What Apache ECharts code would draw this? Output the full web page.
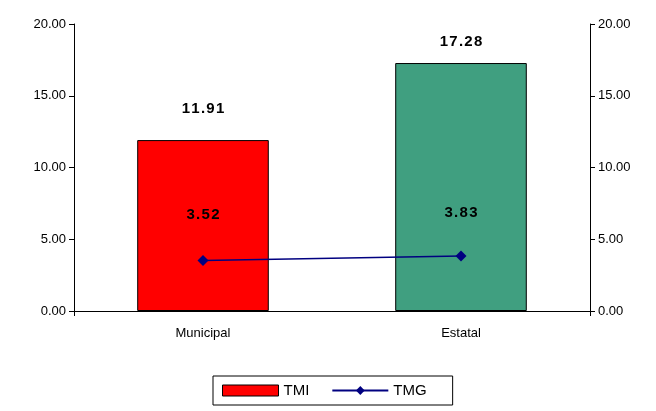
<!DOCTYPE html>
<html><head><meta charset="utf-8">
<script src="https://cdn.jsdelivr.net/npm/echarts@6/dist/echarts.min.js"></script>
<style>html,body{margin:0;padding:0;background:#fff}#c{width:656px;height:411px}</style>
</head><body><div id="c"></div>
<script>
var categories = ['Municipal', 'Estatal'];
var tmi = [11.91, 17.28];
var tmg = [3.52, 3.83];
var yTicks = [0, 5, 10, 15, 20];
var barColors = ['#FF0000', '#409F80'];

var chart = echarts.init(document.getElementById('c'));
var axisCommon = {
  type: 'value', min: 0, max: 20, interval: 5,
  axisLine: {show: true, lineStyle: {color: '#000', width: 1}},
  axisTick: {show: true, length: 5, lineStyle: {color: '#000'}},
  splitLine: {show: false},
  axisLabel: {color: '#000', fontFamily: 'Liberation Sans, Arial', fontSize: 13,
    formatter: function (v) { return v.toFixed(2); }}
};
function spaced(v) { return v.toFixed(2).split('').join('\u200A'); }
var labelStyle = {show: true, position: 'top', color: '#000', fontWeight: 'bold',
  fontFamily: 'Liberation Sans, Arial', fontSize: 15};
var barDist = [24, 14];
var lineDist = [33, 30];
chart.setOption({
  animation: false,
  grid: {left: 74, right: 66, top: 24, bottom: 100},
  legend: {
    left: 213, top: 376, itemGap: 22,
    borderColor: '#000', borderWidth: 1, padding: [7, 26, 7, 9],
    itemWidth: 56, itemHeight: 11,
    textStyle: {color: '#000', fontFamily: 'Liberation Sans, Arial', fontSize: 15},
    data: [
      {name: 'TMI', icon: 'rect', itemStyle: {borderColor: '#000', borderWidth: 1}},
      {name: 'TMG'}
    ]
  },
  xAxis: {
    type: 'category', data: categories,
    axisLine: {lineStyle: {color: '#000'}},
    axisTick: {show: true, length: 5, lineStyle: {color: '#000'},
      interval: function (i) { return i === 1; }},
    axisLabel: {color: '#000', fontFamily: 'Liberation Sans, Arial', fontSize: 13, margin: 16}
  },
  yAxis: [
    Object.assign({}, axisCommon, {position: 'left'}),
    Object.assign({}, axisCommon, {position: 'right'})
  ],
  series: [
    {
      name: 'TMI', type: 'bar', barWidth: '51%',
      data: tmi.map(function (v, i) {
        return {value: v, itemStyle: {color: barColors[i]},
          label: Object.assign({}, labelStyle, {distance: barDist[i]})};
      }),
      itemStyle: {color: '#FF0000', borderColor: '#000', borderWidth: 1},
      label: Object.assign({}, labelStyle, {formatter: function (p) { return spaced(p.value); }})
    },
    {
      name: 'TMG', type: 'line',
      data: tmg.map(function (v, i) {
        return {value: v, label: Object.assign({}, labelStyle, {distance: lineDist[i]})};
      }),
      symbol: 'diamond', symbolSize: 11,
      lineStyle: {color: '#000080', width: 1.5},
      itemStyle: {color: '#000080'},
      label: Object.assign({}, labelStyle, {formatter: function (p) { return spaced(p.value); }})
    }
  ]
});
</script></body></html>
